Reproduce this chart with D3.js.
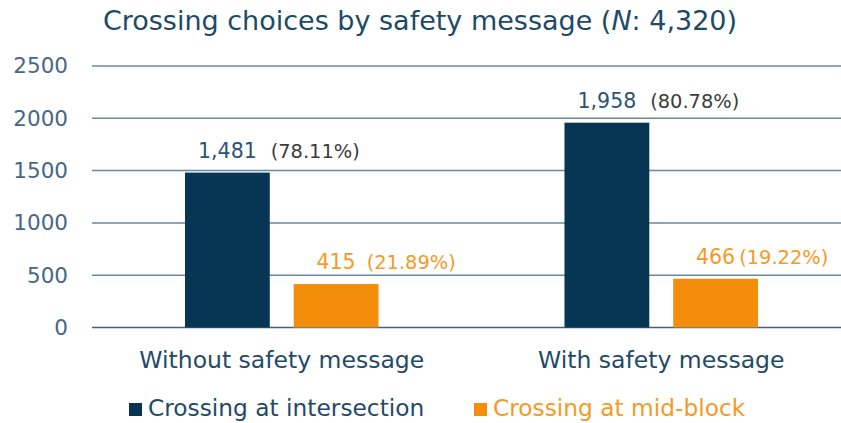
<!DOCTYPE html>
<html>
<head>
<meta charset="utf-8">
<script src="https://cdn.jsdelivr.net/npm/d3@7"></script>
<style>
    body { margin: 0; background: #fff; }
    svg text { font-family: "DejaVu Sans", sans-serif; }
</style>
</head>
<body>
<div id="chart"></div>
<script>
// data
var categories = ["Without safety message", "With safety message"];
var seriesNames = ["Crossing at intersection", "Crossing at mid-block"];
var intersection = [1481, 1958];
var midBlock = [415, 466];
var intersectionPct = ["(78.11%)", "(80.78%)"];
var midBlockPct = ["(21.89%)", "(19.22%)"];
var yTicks = [0, 500, 1000, 1500, 2000, 2500];

var W = 841, H = 423;
var colors = ["#073654", "#f28e0a"];
var labelColors = ["#2a5574", "#f59a26"];

var svg = d3.select("#chart")
    .append("svg")
    .attr("width", W)
    .attr("height", H);

// scales
var x0 = d3.scaleBand().domain(categories).range([92, 851]);
var x1 = d3.scaleBand().domain(seriesNames)
    .range([x0.bandwidth() * 0.245, x0.bandwidth() * 0.755])
    .paddingInner(0.22);
var y = d3.scaleLinear().domain([0, 2500]).range([327.5, 66]);

// title
var title = svg.append("text")
    .attr("x", 420)
    .attr("y", 30)
    .attr("text-anchor", "middle")
    .style("font-size", "27px")
    .style("fill", "#1d4a66");
title.append("tspan").text("Crossing choices by safety message (");
title.append("tspan").style("font-style", "italic").text("N");
title.append("tspan").text(": 4,320)");

// gridlines
svg.append("g")
    .selectAll("line")
    .data(yTicks)
    .enter().append("line")
    .attr("x1", 92)
    .attr("x2", W)
    .attr("y1", function(d) { return y(d); })
    .attr("y2", function(d) { return y(d); })
    .style("stroke", function(d) { return d === 0 ? "#46627a" : "#6a88a2"; })
    .style("stroke-width", 1.5);

// y axis labels
var yAxis = d3.axisLeft(y).tickValues(yTicks).tickFormat(d3.format("d")).tickSize(0).tickPadding(0);
var gy = svg.append("g")
    .attr("transform", "translate(68,0)")
    .call(yAxis);
gy.select(".domain").remove();
gy.selectAll("text")
    .style("font-size", "21.5px")
    .style("font-family", "DejaVu Sans, sans-serif")
    .style("fill", "#46678a");

// x axis labels
var xAxis = d3.axisBottom(x0).tickSize(0).tickPadding(0);
var gx = svg.append("g")
    .attr("transform", "translate(0,351)")
    .call(xAxis);
gx.select(".domain").remove();
gx.selectAll("text")
    .style("font-size", "23.5px")
    .style("font-family", "DejaVu Sans, sans-serif")
    .style("fill", "#1f4a68");

// bars
var rows = categories.map(function(c, i) {
    return [
        {cat: c, s: 0, value: intersection[i], pct: intersectionPct[i]},
        {cat: c, s: 1, value: midBlock[i], pct: midBlockPct[i]}
    ];
});
var gaps = [[14, 11], [14, 4]];

var groups = svg.selectAll(".grp")
    .data(rows)
    .enter().append("g")
    .attr("class", "grp")
    .attr("transform", function(d) { return "translate(" + x0(d[0].cat) + ",0)"; });

groups.selectAll("rect")
    .data(function(d) { return d; })
    .enter().append("rect")
    .attr("x", function(d) { return x1(seriesNames[d.s]); })
    .attr("width", x1.bandwidth())
    .attr("y", function(d) { return y(d.value); })
    .attr("height", function(d) { return y(0) - y(d.value); })
    .style("fill", function(d) { return colors[d.s]; });

// value labels + percentages
groups.each(function(row, gi) {
    var g = d3.select(this);
    row.forEach(function(d) {
        var cx = x1(seriesNames[d.s]) + x1.bandwidth() / 2;
        var t = g.append("text")
            .attr("x", cx)
            .attr("y", y(d.value) - 15)
            .attr("text-anchor", "middle")
            .style("font-size", "20.5px")
            .style("fill", labelColors[d.s])
            .text(d3.format(",")(d.value));
        var end = cx + t.node().getComputedTextLength() / 2;
        g.append("text")
            .attr("x", end + gaps[gi][d.s])
            .attr("y", y(d.value) - 15)
            .style("font-size", "19.4px")
            .style("fill", d.s === 0 ? "#3c3c3c" : labelColors[1])
            .text(d.pct);
    });
});

// legend
var legendX = [129, 474];
var legend = svg.selectAll(".legend")
    .data(seriesNames)
    .enter().append("g")
    .attr("class", "legend")
    .attr("transform", function(d, i) { return "translate(" + legendX[i] + ",403)"; });

legend.append("rect")
    .attr("width", 13)
    .attr("height", 13)
    .style("fill", function(d, i) { return colors[i]; });

legend.append("text")
    .attr("x", 19)
    .attr("y", 12.5)
    .style("font-size", "23.3px")
    .style("fill", function(d, i) { return i === 0 ? "#1f4a68" : labelColors[1]; })
    .text(function(d) { return d; });
</script>
</body>
</html>
